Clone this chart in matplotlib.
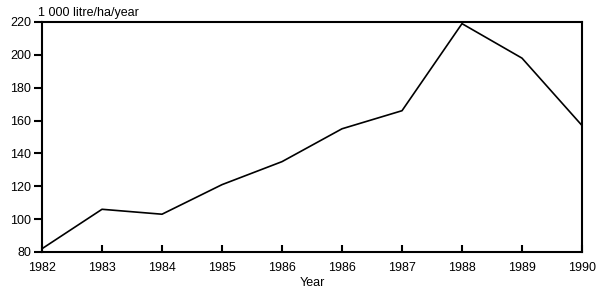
import matplotlib
matplotlib.use("Agg")
import matplotlib.pyplot as plt

tick_labels = ["1982", "1983", "1984", "1985", "1986", "1986", "1987", "1988", "1989", "1990"]
values = [82, 106, 103, 121, 135, 155, 166, 219, 198, 157]
y_ticks = [80, 100, 120, 140, 160, 180, 200, 220]

plt.rcParams['font.family'] = ['Liberation Sans', 'DejaVu Sans']

fig = plt.figure(figsize=(5.99, 2.92), dpi=100)
ax = fig.add_axes([42/599, 1-252/292, (582-42)/599, (252-22)/292])

x = list(range(len(values)))
ax.plot(x, values, color='black', linewidth=1.2)

ax.set_xlim(0, len(values)-1)
ax.set_ylim(80, 220)
ax.set_xticks(x)
ax.set_xticklabels(tick_labels, fontsize=9)
ax.set_yticks(y_ticks)
ax.set_yticklabels([str(v) for v in y_ticks], fontsize=9)

for s in ax.spines.values():
    s.set_linewidth(1.5)
ax.tick_params(axis='x', direction='in', length=5, width=1.5, pad=7)
ax.tick_params(axis='y', direction='out', length=6, width=1.5, pad=2)

ax.set_xlabel("Year", fontsize=9, labelpad=2.5)
fig.text(38/599, 1-13/292, "1 000 litre/ha/year", fontsize=9, ha='left', va='center')

fig.savefig("out.png", dpi=100)
